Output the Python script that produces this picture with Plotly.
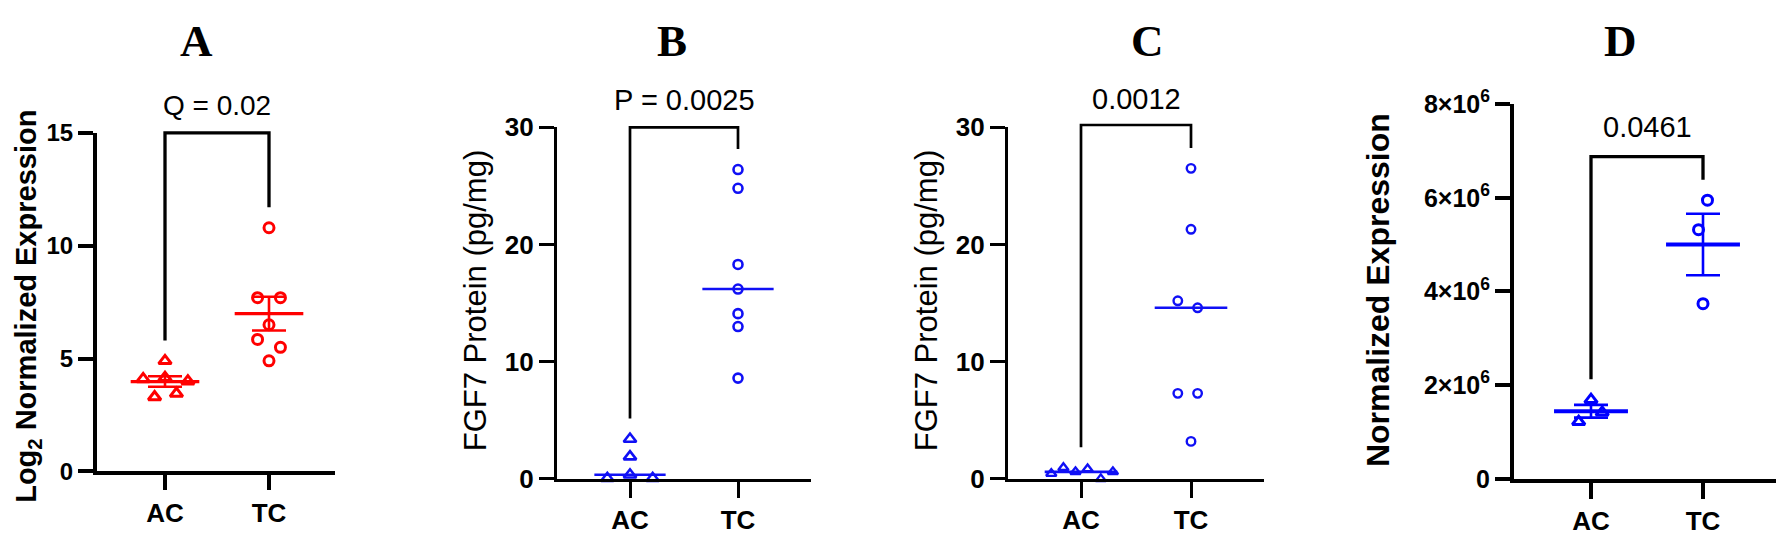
import numpy as np
import plotly.graph_objects as go

W, H = 1786, 544          # window size of the reference
OFF = 8                   # default page margin of the html body
FW, FH = W - 2 * OFF, H - 2 * OFF

# ---------------- data ----------------
categories = ["AC", "TC"]

A_AC = [4.9, 4.1, 4.15, 4.0, 3.3, 3.45]
A_TC = [10.8, 7.7, 7.7, 6.5, 5.85, 5.5, 4.9]
B_AC = [3.4, 1.9, 0.35, 0.05, 0.05]
B_TC = [26.4, 24.8, 18.3, 16.2, 14.1, 13.0, 8.6]
C_AC = [0.45, 0.95, 0.6, 0.85, 0.0, 0.6]
C_TC = [26.5, 21.3, 15.2, 14.6, 7.3, 7.3, 3.2]
D_AC = [1.69e6, 1.42e6, 1.22e6]
D_TC = [5.95e6, 5.32e6, 3.74e6]

p_labels = ["Q = 0.02", "P = 0.0025", "0.0012", "0.0461"]
panel_letters = ["A", "B", "C", "D"]
y_titles = ["Log<sub>2</sub> Normalized Expression", "FGF7 Protein (pg/mg)",
            "FGF7 Protein (pg/mg)", "Normalized Expression"]
A_yticks = [0, 5, 10, 15]
BC_yticks = [0, 10, 20, 30]
D_yticks = [0, 2e6, 4e6, 6e6, 8e6]
D_yticktext = ["0", "2×10<sup>6</sup>", "4×10<sup>6</sup>", "6×10<sup>6</sup>", "8×10<sup>6</sup>"]

# horizontal scatter offsets (category units) for the dot layout
A_AC_jit = [0.0, -0.21, 0.0, 0.22, -0.10, 0.11]
A_TC_jit = [0.0, -0.11, 0.11, 0.0, -0.11, 0.11, 0.0]
B_AC_jit = [0.0, 0.0, 0.0, -0.21, 0.21]
B_TC_jit = [0, 0, 0, 0, 0, 0, 0]
C_AC_jit = [-0.27, -0.16, -0.05, 0.06, 0.18, 0.29]
C_TC_jit = [0.0, 0.0, -0.12, 0.06, -0.12, 0.06, 0.0]
D_AC_jit = [0.0, 0.10, -0.11]
D_TC_jit = [0.04, -0.04, 0.0]

RED = "#FF0000"
BLUE = "#0000FF"
BLUE2 = "#1010F5"
SANS = "Liberation Sans"


def px_x(p):
    return min(1.0, max(0.0, (p - OFF) / FW))


def px_y(p):
    return min(1.0, max(0.0, 1 - (p - OFF) / FH))


# panel geometry in window pixels: y-axis x, AC x, TC x, right end, y bottom, y top
panels = [
    dict(yx=97, ac=165, tc=269, right=335, yb=487, yt=123, rng=[0, 15]),
    dict(yx=557, ac=630, tc=738, right=811, yb=495, yt=117, rng=[0, 30]),
    dict(yx=1008, ac=1081, tc=1191, right=1264, yb=495, yt=117, rng=[0, 30]),
    dict(yx=1514, ac=1591, tc=1703, right=1776, yb=495, yt=92, rng=[0, 8e6]),
]

fig = go.Figure()

series = [
    (A_AC, A_AC_jit, A_TC, A_TC_jit, RED, 11, 10, 3.0, "mean"),
    (B_AC, B_AC_jit, B_TC, B_TC_jit, BLUE2, 11, 9, 2.6, "median"),
    (C_AC, C_AC_jit, C_TC, C_TC_jit, BLUE2, 9, 8.5, 2.4, "median"),
    (D_AC, D_AC_jit, D_TC, D_TC_jit, BLUE, 11, 10, 3.0, "mean"),
]

line_w = [3.3, 2.6, 2.6, 4]
axis_w = [4, 3.3, 3.3, 4]
bracket_w = [3.3, 2.7, 2.7, 3.3]
bracket_top = [15.0, 30.0, 30.2, 6.88e6]
ytitle_font = [dict(size=29, weight="bold"), dict(size=31, weight="normal"),
               dict(size=31, weight="normal"), dict(size=32, weight="bold")]
# (x, y, xanchor) of the y-axis titles in window pixels
ytitle_pos = [(OFF, 310, "left"), (475, 304, "center"), (926, 304, "center"),
              (1378, 292, "center")]
letter_pos = [(196, 24), (672, 24), (1147, 24), (1620, 24)]
plabel_y = [94, 88, 87, 117]
plabel_size = [28, 29, 29, 29]
ytick_size = [24, 26, 26, 25]
xtick_size = [26, 26, 26, 26]
xtick_len = [15, 16, 16, 16]

shapes = []
annotations = []

for i, (p, s) in enumerate(zip(panels, series)):
    k = "" if i == 0 else str(i + 1)
    xa, ya = "x" + k, "y" + k
    ac_vals, ac_jit, tc_vals, tc_jit, col, tri_size, circ_size, mw, stat = s

    unit_px = p["tc"] - p["ac"]
    xr = [-(p["ac"] - p["yx"]) / unit_px, 1 + (p["right"] - p["tc"]) / unit_px]
    val_per_px = (p["rng"][1] - p["rng"][0]) / (p["yb"] - p["yt"])

    def v2py(v, p=p, vpp=val_per_px):
        return p["yb"] - (v - p["rng"][0]) / vpp

    # summary lines
    for xi, vals in ((0, ac_vals), (1, tc_vals)):
        v = np.array(vals, dtype=float)
        c = float(np.mean(v)) if stat == "mean" else float(np.median(v))
        fig.add_trace(go.Scatter(x=[xi - 0.33, xi + 0.33], y=[c, c], mode="lines",
                                 line=dict(color=col, width=line_w[i]), xaxis=xa, yaxis=ya,
                                 showlegend=False, hoverinfo="skip", cliponaxis=False))
        if stat == "mean":
            sem = float(np.std(v, ddof=1) / np.sqrt(len(v)))
            fig.add_trace(go.Scatter(x=[xi], y=[c], mode="markers",
                                     marker=dict(size=1, color="rgba(0,0,0,0)"),
                                     error_y=dict(type="data", array=[sem], color=col,
                                                  thickness=2.6, width=17),
                                     xaxis=xa, yaxis=ya, showlegend=False,
                                     hoverinfo="skip", cliponaxis=False))

    # points
    fig.add_trace(go.Scatter(x=[0 + j for j in ac_jit], y=ac_vals, mode="markers",
                             marker=dict(symbol="triangle-up-open", size=tri_size,
                                         color=col, line=dict(color=col, width=mw)),
                             xaxis=xa, yaxis=ya, showlegend=False, cliponaxis=False))
    fig.add_trace(go.Scatter(x=[1 + j for j in tc_jit], y=tc_vals, mode="markers",
                             marker=dict(symbol="circle-open", size=circ_size,
                                         color=col, line=dict(color=col, width=mw)),
                             xaxis=xa, yaxis=ya, showlegend=False, cliponaxis=False))

    # significance bracket (paper coords so it is not clipped at the axis top)
    gap = 22 * val_per_px
    yl = px_y(v2py(max(ac_vals) + gap))
    yr = px_y(v2py(max(tc_vals) + gap))
    yt = px_y(v2py(bracket_top[i]))
    x0, x1 = px_x(p["ac"]), px_x(p["tc"])
    shapes.append(dict(type="path", xref="paper", yref="paper",
                       path=f"M {x0} {yl} L {x0} {yt} L {x1} {yt} L {x1} {yr}",
                       line=dict(color="black", width=bracket_w[i])))
    annotations.append(dict(x=(x0 + x1) / 2, xref="paper", y=px_y(plabel_y[i]), yref="paper",
                            text=p_labels[i], showarrow=False, xanchor="center",
                            yanchor="middle",
                            font=dict(family=SANS, size=plabel_size[i], color="black")))
    # y title
    tx, ty, tanchor = ytitle_pos[i]
    annotations.append(dict(x=px_x(tx), y=px_y(ty), xref="paper", yref="paper",
                            text=y_titles[i], textangle=-90, showarrow=False,
                            xanchor=tanchor, yanchor="middle",
                            font=dict(family=SANS, color="black", **ytitle_font[i])))
    # panel letter
    lx, ly = letter_pos[i]
    annotations.append(dict(x=px_x(lx), y=px_y(ly), xref="paper", yref="paper",
                            text=panel_letters[i], showarrow=False,
                            xanchor="center", yanchor="middle",
                            font=dict(family="Liberation Serif", size=45,
                                      color="black", weight="bold")))

    if i == 0:
        yt_vals, yt_text = A_yticks, [str(v) for v in A_yticks]
    elif i in (1, 2):
        yt_vals, yt_text = BC_yticks, [str(v) for v in BC_yticks]
    else:
        yt_vals, yt_text = D_yticks, D_yticktext

    fig.update_layout(**{
        "xaxis" + k: dict(domain=[px_x(p["yx"]), px_x(p["right"])], range=xr,
                          anchor=ya, showline=True, linecolor="black", linewidth=axis_w[i],
                          ticks="outside", ticklen=xtick_len[i], tickwidth=axis_w[i],
                          tickcolor="black",
                          tickvals=[0, 1], ticktext=categories, showgrid=False,
                          zeroline=False, fixedrange=True,
                          tickfont=dict(family=SANS, size=xtick_size[i], color="black",
                                        weight="bold")),
        "yaxis" + k: dict(domain=[px_y(p["yb"]), px_y(p["yt"])], range=p["rng"],
                          anchor=xa, showline=True, linecolor="black", linewidth=axis_w[i],
                          ticks="outside", ticklen=15, tickwidth=axis_w[i], tickcolor="black",
                          tickvals=yt_vals, ticktext=yt_text, showgrid=False,
                          zeroline=False, fixedrange=True,
                          tickfont=dict(family=SANS, size=ytick_size[i], color="black",
                                        weight="bold")),
    })

fig.update_layout(width=FW, height=FH, margin=dict(l=0, r=0, t=0, b=0),
                  paper_bgcolor="white", plot_bgcolor="white",
                  shapes=shapes, annotations=annotations, showlegend=False)

fig.write_html("out.html")
